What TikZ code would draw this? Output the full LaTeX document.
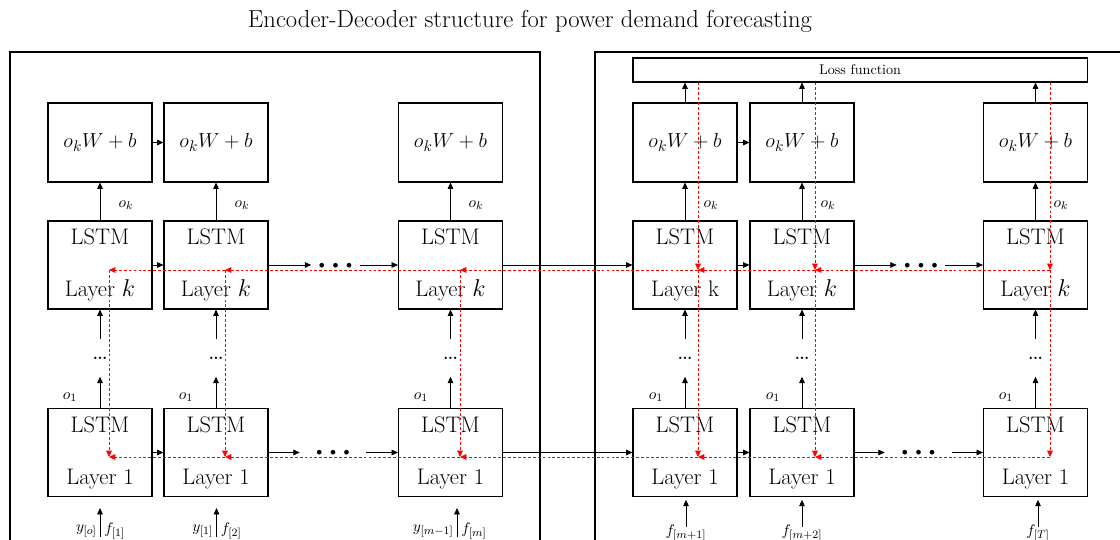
\documentclass[tikz,border=0pt]{standalone}
\usepackage{amsmath,amssymb}
\usetikzlibrary{arrows.meta}
\tikzset{
  frame/.style={black, line width=0.9pt},
  outbox/.style={draw=black, line width=0.8pt, minimum width=2.6cm,
                 minimum height=1.975cm, inner sep=0pt,
                 font=\fontsize{15}{17}\selectfont},
  lstm/.style={draw=black, line width=0.8pt, minimum width=2.6cm,
               minimum height=2.2cm, inner sep=0pt, align=center,
               font=\fontsize{16}{18}\selectfont},
  lossbox/.style={draw=black, line width=0.8pt, minimum width=11.35cm,
                  minimum height=0.6cm, inner sep=0pt,
                  font=\fontsize{10}{12}\selectfont},
  title/.style={font=\fontsize{17.5}{20}\selectfont},
  lab/.style={font=\fontsize{11}{13}\selectfont, inner sep=0pt},
  hdots/.style={minimum width=1.2cm, inner sep=0pt,
                font=\fontsize{8}{8}\selectfont},
  vdots/.style={minimum height=0.925cm, inner sep=0pt,
                font=\fontsize{20}{22}\selectfont},
  flow/.style={-{Triangle[length=4.5pt,width=4pt]}, line width=0.5pt},
  back/.style={-{Triangle[length=4.5pt,width=4pt]}, red, line width=0.6pt,
               dash pattern=on 2pt off 1.5pt},
}
\newcommand{\bigdots}{$\bullet\hskip3.6pt\bullet\hskip3.6pt\bullet$}

\begin{document}
\begin{tikzpicture}[x=0.025cm,y=-0.025cm]
  \path[use as bounding box] (0,0) rectangle (1120,540);

  \node[title] (title) at (530,21)
    {Encoder-Decoder structure for power demand forecasting};

  % encoder and decoder frames
  \draw[frame] (10,548) -- (10,52) -- (540,52) -- (540,548);
  \draw[frame] (595,548) -- (595,52) -- (1125,52);

  \node[lossbox] (loss) at (860,70) {Loss function};

  % encoder
  \node[outbox] (e1out) at (100,142.5) {$o_kW+b$};
  \node[outbox] (e2out) at (216,142.5) {$o_kW+b$};
  \node[outbox] (e3out) at (450.5,142.5) {$o_kW+b$};
  \node[lstm] (e1k) at (100,265) {LSTM\\[19pt]Layer $k$};
  \node[lstm] (e2k) at (216,265) {LSTM\\[19pt]Layer $k$};
  \node[lstm] (e3k) at (450.5,265) {LSTM\\[19pt]Layer $k$};
  \node[lstm] (e1one) at (100,452.5) {LSTM\\[19pt]Layer 1};
  \node[lstm] (e2one) at (216,452.5) {LSTM\\[19pt]Layer 1};
  \node[lstm] (e3one) at (450.5,452.5) {LSTM\\[19pt]Layer 1};

  % decoder
  \node[outbox] (d1out) at (685,142.5) {$o_kW+b$};
  \node[outbox] (d2out) at (802,142.5) {$o_kW+b$};
  \node[outbox] (d3out) at (1035.5,142.5) {$o_kW+b$};
  \node[lstm] (d1k) at (685,265) {LSTM\\[19pt]Layer k};
  \node[lstm] (d2k) at (802,265) {LSTM\\[19pt]Layer $k$};
  \node[lstm] (d3k) at (1035.5,265) {LSTM\\[19pt]Layer $k$};
  \node[lstm] (d1one) at (685,452.5) {LSTM\\[19pt]Layer 1};
  \node[lstm] (d2one) at (802,452.5) {LSTM\\[19pt]Layer 1};
  \node[lstm] (d3one) at (1035.5,452.5) {LSTM\\[19pt]Layer 1};

  % outputs of the top layer
  \draw[flow] (e1k) -- (e1out);
  \draw[flow] (e2k) -- (e2out);
  \draw[flow] (e3k) -- (e3out);
  \draw[flow] (d1k) -- (d1out);
  \draw[flow] (d2k) -- (d2out);
  \draw[flow] (d3k) -- (d3out);
  \draw[flow] (e1out) -- (e2out);
  \draw[flow] (d1out) -- (d2out);
  \draw[flow] (d1out.north) -- (d1out.north |- loss.south);
  \draw[flow] (d2out.north) -- (d2out.north |- loss.south);
  \draw[flow] (d3out.north) -- (d3out.north |- loss.south);
  \node[lab] (e1ok) at (126,205) {$o_k$};
  \node[lab] (e2ok) at (242,205) {$o_k$};
  \node[lab] (e3ok) at (476,205) {$o_k$};
  \node[lab] (d1ok) at (711,205) {$o_k$};
  \node[lab] (d2ok) at (828,205) {$o_k$};
  \node[lab] (d3ok) at (1061,205) {$o_k$};

  % layers in between
  \node[vdots] (e1vd) at (100,358) {\ldots};
  \node[vdots] (e2vd) at (216,358) {\ldots};
  \node[vdots] (e3vd) at (450.5,358) {\ldots};
  \node[vdots] (d1vd) at (685,358) {\ldots};
  \node[vdots] (d2vd) at (802,358) {\ldots};
  \node[vdots] (d3vd) at (1035.5,358) {\ldots};
  \draw[flow] (e1one) -- (e1vd);  \draw[flow] (e1vd) -- (e1k);
  \draw[flow] (e2one) -- (e2vd);  \draw[flow] (e2vd) -- (e2k);
  \draw[flow] (e3one) -- (e3vd);  \draw[flow] (e3vd) -- (e3k);
  \draw[flow] (d1one) -- (d1vd);  \draw[flow] (d1vd) -- (d1k);
  \draw[flow] (d2one) -- (d2vd);  \draw[flow] (d2vd) -- (d2k);
  \draw[flow] (d3one) -- (d3vd);  \draw[flow] (d3vd) -- (d3k);
  \node[lab] (e1o1) at (70,397) {$o_1$};
  \node[lab] (e2o1) at (186,397) {$o_1$};
  \node[lab] (e3o1) at (421,397) {$o_1$};
  \node[lab] (d1o1) at (656,397) {$o_1$};
  \node[lab] (d2o1) at (773,397) {$o_1$};
  \node[lab] (d3o1) at (1006,397) {$o_1$};

  % states passed along the sequence
  \node[hdots] (ekdots) at (335.5,266) {\bigdots};
  \node[hdots, minimum width=1.65cm] (eonedots) at (333,453) {\bigdots};
  \node[hdots] (dkdots) at (921,266) {\bigdots};
  \node[hdots, minimum width=1.675cm] (donedots) at (918.5,453) {\bigdots};
  \draw[flow] (e1k) -- (e2k);
  \draw[flow] (e2k.east) -- (e2k.east -| ekdots.west);
  \draw[flow] (ekdots.east |- e3k.west) -- (e3k.west);
  \draw[flow] (e3k) -- (d1k);
  \draw[flow] (d1k) -- (d2k);
  \draw[flow] (d2k.east) -- (d2k.east -| dkdots.west);
  \draw[flow] (dkdots.east |- d3k.west) -- (d3k.west);
  \draw[flow] (e1one) -- (e2one);
  \draw[flow] (e2one.east) -- (e2one.east -| eonedots.west);
  \draw[flow] (eonedots.east |- e3one.west) -- (e3one.west);
  \draw[flow] (e3one) -- (d1one);
  \draw[flow] (d1one) -- (d2one);
  \draw[flow] (d2one.east) -- (d2one.east -| donedots.west);
  \draw[flow] (donedots.east |- d3one.west) -- (d3one.west);

  % inputs
  \coordinate (e1in) at (100,537);
  \coordinate (e2in) at (216.5,537);
  \coordinate (e3in) at (457,537);
  \coordinate (d1in) at (686,527);
  \coordinate (d2in) at (802,527);
  \coordinate (d3in) at (1038,527);
  \draw[flow, shorten >=7.8pt] (e1in) -- (e1in |- e1one.south);
  \draw[flow, shorten >=7.8pt] (e2in) -- (e2in |- e2one.south);
  \draw[flow, shorten >=7.8pt] (e3in) -- (e3in |- e3one.south);
  \draw[flow, shorten >=2pt] (d1in) -- (d1in |- d1one.south);
  \draw[flow, shorten >=2pt] (d2in) -- (d2in |- d2one.south);
  \draw[flow, shorten >=2pt] (d3in) -- (d3in |- d3one.south);
  \node[lab, anchor=east] (e1y) at (97,531) {$y_{[o]}$};
  \node[lab, anchor=west] (e1f) at (104,531) {$f_{[1]}$};
  \node[lab, anchor=east] (e2y) at (213.5,531) {$y_{[1]}$};
  \node[lab, anchor=west] (e2f) at (220.5,531) {$f_{[2]}$};
  \node[lab, anchor=east] (e3y) at (454,531) {$y_{[m-1]}$};
  \node[lab, anchor=west] (e3f) at (461,531) {$f_{[m]}$};
  \node[lab] (d1f) at (686,533) {$f_{[m+1]}$};
  \node[lab] (d2f) at (802,533) {$f_{[m+2]}$};
  \node[lab] (d3f) at (1038,533) {$f_{[T]}$};

  % backward path of the loss
  \coordinate (e1redk) at (109,270);
  \coordinate (e2redk) at (225,270);
  \coordinate (e3redk) at (460,270);
  \coordinate (d1redk) at (698,270);
  \coordinate (d2redk) at (815,270);
  \coordinate (d3redk) at (1050,270);
  \coordinate (e1red1) at (109,457);
  \coordinate (e2red1) at (225,457);
  \coordinate (e3red1) at (460,457);
  \coordinate (d1red1) at (698,457);
  \coordinate (d2red1) at (815,457);
  \coordinate (d3red1) at (1050,457);
  \draw[back] (loss.south -| d1redk) -- (d1redk);
  \draw[back] (loss.south -| d2redk) -- (d2redk);
  \draw[back] (loss.south -| d3redk) -- (d3redk);
  \draw[back] (d3redk) -- (d2redk);
  \draw[back] (d2redk) -- (d1redk);
  \draw[back] (d1redk) -- (e3redk);
  \draw[back] (e3redk) -- (e2redk);
  \draw[back] (e2redk) -- (e1redk);
  \draw[back] (e1redk) -- (e1red1);
  \draw[back] (e2redk) -- (e2red1);
  \draw[back] (e3redk) -- (e3red1);
  \draw[back] (d1redk) -- (d1red1);
  \draw[back] (d2redk) -- (d2red1);
  \draw[back] (d3redk) -- (d3red1);
  \draw[back] (d3red1) -- (d2red1);
  \draw[back] (d2red1) -- (d1red1);
  \draw[back] (d1red1) -- (e3red1);
  \draw[back] (e3red1) -- (e2red1);
  \draw[back] (e2red1) -- (e1red1);
\end{tikzpicture}
\end{document}
